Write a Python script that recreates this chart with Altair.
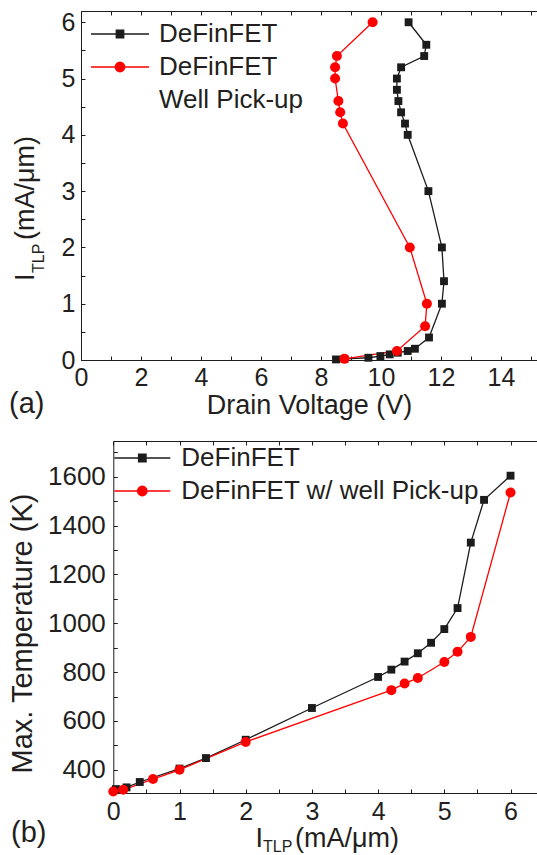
import altair as alt
import pandas as pd

FONT = "Liberation Sans"
INK = "#231f20"
BLACK = "#1c1c1c"
RED = "#ff0000"

# ---------------- panel (a): I_TLP versus drain voltage ----------------
a_def_v = [8.50, 8.78, 9.58, 9.98, 10.29, 10.56, 10.89, 11.13, 11.60, 12.03, 12.10, 12.03,
           11.58, 10.89, 10.80, 10.67, 10.58, 10.53, 10.53, 10.67, 11.44, 11.51, 10.92]
a_def_i = [0.01, 0.02, 0.04, 0.07, 0.10, 0.13, 0.16, 0.20, 0.40, 1.0, 1.4, 2.0,
           3.0, 4.0, 4.2, 4.4, 4.6, 4.8, 5.0, 5.2, 5.4, 5.6, 6.0]
a_wpu_v = [8.78, 10.53, 11.47, 11.53, 10.96, 8.73, 8.64, 8.58, 8.47, 8.47, 8.53, 9.72]
a_wpu_i = [0.02, 0.16, 0.6, 1.0, 2.0, 4.2, 4.4, 4.6, 5.0, 5.2, 5.4, 6.0]

# ---------------- panel (b): max temperature versus I_TLP ----------------
b_def_i = [0.04, 0.2, 0.4, 1.0, 1.4, 2.0, 3.0, 4.0, 4.2, 4.4, 4.6, 4.8, 5.0, 5.2, 5.4, 5.6, 6.0]
b_def_t = [321, 328, 350, 405, 448, 523, 653, 780, 810, 843, 877, 920, 976, 1062, 1330, 1505, 1604]
b_wpu_i = [0.0, 0.15, 0.6, 1.0, 2.0, 4.2, 4.4, 4.6, 5.0, 5.2, 5.4, 6.0]
b_wpu_t = [311, 318, 362, 400, 514, 726, 753, 776, 841, 883, 944, 1535]

# tick values
a_x_ticks = list(range(0, 16))
a_y_ticks = [k * 0.5 for k in range(0, 13)]
b_x_ticks = [k * 0.5 for k in range(0, 13)]
b_y_ticks = list(range(400, 1800, 100))

series_keys = ["A", "B", "C"]
a_labels = ["DeFinFET", "DeFinFET", "Well Pick-up"]
b_labels = ["DeFinFET", "DeFinFET w/ well Pick-up", ""]

dfa = pd.DataFrame({
    "x": a_def_v + a_wpu_v,
    "y": a_def_i + a_wpu_i,
    "s": ["A"] * len(a_def_v) + ["B"] * len(a_wpu_v),
})
dfb = pd.DataFrame({
    "x": b_def_i + b_wpu_i,
    "y": b_def_t + b_wpu_t,
    "s": ["A"] * len(b_def_i) + ["B"] * len(b_wpu_i),
})

PLOT_W = 456


def frame_axis(values, major, orient, offset=0, labels=True, title=None, fs=25,
               lpad=5, tpad=None, extra=None):
    """Axis that draws the frame line (domain) and the labels, without ticks."""
    kw = dict(
        values=values, orient=orient, grid=False, domain=True,
        domainColor=BLACK, domainWidth=1, offset=offset, ticks=False,
        labels=labels, labelFont=FONT, labelFontSize=fs, labelColor=INK,
        labelPadding=lpad, labelFlush=False, labelOverlap=False, labelBound=False,
        labelExpr=f"({major}) ? format(datum.value, 'd') : ''",
        title=title, minExtent=0,
    )
    if title is not None:
        kw.update(titleFont=FONT, titleFontSize=27, titleFontWeight="normal",
                  titleColor=INK)
        if tpad is not None:
            kw["titlePadding"] = tpad
    if extra:
        kw.update(extra)
    return alt.Axis(**kw)


def tick_only_axis(values, orient, offset=0):
    """Axis that draws inward ticks only."""
    return alt.Axis(
        values=values, orient=orient, grid=False, domain=False, labels=False,
        ticks=True, tickSize=4, offset=offset - 4, tickColor=BLACK, tickWidth=1,
        title=None, minExtent=0,
    )


def legend_paths(half):
    sq = f"M-{half},0H{half}M-0.75,-0.75H0.75V0.75H-0.75Z"
    ci = (f"M-{half},0H{half}M0.95,0A0.95,0.95,0,1,1,-0.95,0"
          f"A0.95,0.95,0,1,1,0.95,0Z")
    return [sq, ci, "M0,0"]


def text_layer(txt, x, y, size, angle=0, align="left", baseline="alphabetic"):
    kw = dict(text=txt, font=FONT, fontSize=size, color=INK, align=align,
              baseline=baseline)
    if angle:
        kw["angle"] = angle
    return alt.Chart(alt.Data(values=[{"k": 1}])).mark_text(**kw).encode(
        x=alt.value(x), y=alt.value(y))


def panel(df, xscale, ydom, h, ax_bottom, ax_bottom_t, ax_top, ax_top_t,
          ax_left, ax_left_t, labels, half, leg_x, leg_y, texts):
    xs = xscale
    ys = alt.Scale(domain=ydom, nice=False, zero=False)
    cscale = alt.Scale(domain=["A", "B"], range=[BLACK, RED])

    lines = alt.Chart(df).mark_line(strokeWidth=1.3).encode(
        x=alt.X("x:Q", scale=xs, axis=ax_bottom),
        y=alt.Y("y:Q", scale=ys, axis=ax_left),
        color=alt.Color("s:N", scale=cscale, legend=None),
        order=alt.Order("y:Q"),
    )
    sq = alt.Chart(df).transform_filter("datum.s == 'A'").mark_point(
        shape="square", filled=True, size=62, color=BLACK, opacity=1
    ).encode(x=alt.X("x:Q", scale=xs, axis=ax_bottom_t),
             y=alt.Y("y:Q", scale=ys, axis=ax_left_t))
    ci = alt.Chart(df).transform_filter("datum.s == 'B'").mark_point(
        shape="circle", filled=True, size=100, color=RED, opacity=1
    ).encode(x=alt.X("x:Q", scale=xs, axis=ax_top),
             y=alt.Y("y:Q", scale=ys, axis=None))

    lab_expr = ("datum.value == 'A' ? '%s' : datum.value == 'B' ? '%s' : '%s'"
                % tuple(labels))
    leg = alt.Legend(
        title=None, orient="none", legendX=leg_x, legendY=leg_y, padding=0,
        labelFont=FONT, labelFontSize=26, labelColor=INK, labelExpr=lab_expr,
        labelLimit=600, labelOffset=26, rowPadding=7, symbolSize=100,
        symbolStrokeWidth=1.3, symbolOpacity=1, labelBaseline="middle",
    )
    legend_layer = alt.Chart(df).transform_filter("false").mark_point(
        filled=True, opacity=1
    ).encode(
        x=alt.X("x:Q", scale=xs, axis=ax_top_t),
        y=alt.Y("y:Q", scale=ys, axis=None),
        fill=alt.Fill("s:N", scale=alt.Scale(domain=series_keys,
                                             range=[BLACK, RED, "transparent"]),
                      legend=leg),
        stroke=alt.Stroke("s:N", scale=alt.Scale(domain=series_keys,
                                                 range=[BLACK, RED, "transparent"]),
                          legend=leg),
        shape=alt.Shape("s:N", scale=alt.Scale(domain=series_keys,
                                               range=legend_paths(half)),
                        legend=leg),
    )
    layers = [lines, sq, ci, legend_layer] + texts
    return alt.layer(*layers).resolve_axis(x="independent", y="independent").properties(
        width=PLOT_W, height=h)


# ---- panel (a): plot area spans the full width
top = panel(
    dfa,
    alt.Scale(domain=[0, 15.2], nice=False, zero=False),
    [0, 6.2], 349,
    frame_axis(a_x_ticks, "datum.value % 2 == 0", "bottom",
               title="Drain Voltage (V)", fs=25, lpad=5, tpad=2),
    tick_only_axis(a_x_ticks, "bottom"),
    frame_axis(a_x_ticks, "true", "top", labels=False),
    tick_only_axis(a_x_ticks, "top"),
    frame_axis(a_y_ticks, "datum.value % 1 == 0", "left", fs=25, lpad=6),
    tick_only_axis(a_y_ticks, "left"),
    a_labels, 5.8, 26, 10,
    [
        text_layer("(a)", -72, 393, 29, baseline="middle"),
        text_layer("I", -47, 270, 27, angle=270),
        text_layer("TLP", -37, 262, 16, angle=270),
        text_layer("(mA/\u03bcm)", -47, 229, 27, angle=270),
    ],
)

# ---- panel (b): its frame starts 32 px right of panel (a)'s
SH = 32.3
bottom = panel(
    dfb,
    alt.Scale(domain=[0, 6.4], nice=False, zero=False, range=[SH, PLOT_W]),
    [305, 1746], 352,
    frame_axis(b_x_ticks, "datum.value % 1 == 0", "bottom", fs=25, lpad=6),
    tick_only_axis(b_x_ticks, "bottom"),
    frame_axis(b_x_ticks, "true", "top", labels=False),
    tick_only_axis(b_x_ticks, "top"),
    frame_axis(b_y_ticks, "datum.value % 200 == 0", "left", offset=-SH,
               title="Max. Temperature (K)", fs=26, lpad=8, tpad=10,
               extra=dict(titleY=192, titleFontSize=29)),
    tick_only_axis(b_y_ticks, "left", offset=-SH),
    b_labels, 5.6, 16 + SH, 4,
    [
        text_layer("(b)", -70, 392, 29, baseline="middle"),
        text_layer("I", 174.4, 406, 27),
        text_layer("TLP", 182, 411, 16),
        text_layer("(mA/\u03bcm)", 214, 406, 27),
    ],
)

indep = dict(color="independent", fill="independent", stroke="independent",
             shape="independent")
chart = alt.vconcat(top, bottom, spacing=20).resolve_scale(**indep).configure(
    padding={"left": 8, "top": 10, "right": 0, "bottom": 0}
).configure_view(stroke=None)

chart.save("out.html", embed_options={"renderer": "svg", "actions": False})
